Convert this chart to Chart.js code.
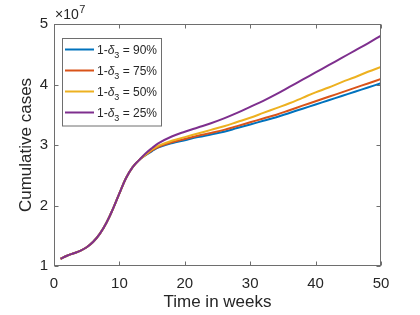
<!DOCTYPE html>
<html>
<head>
<meta charset="utf-8">
<script src="https://cdn.jsdelivr.net/npm/chart.js@4"></script>
<style>
html,body{margin:0;padding:0;background:#fff;}
#wrap{position:relative;width:420px;height:315px;}
</style>
</head>
<body>
<div id="wrap"><canvas id="c" width="420" height="315"></canvas></div>
<script>
// ---- data (cases in units of 10^7) ----
const weeks = [1,2,3,4,5,6,7,8,9,10,11,12,13,14,15,16,18,20,22,24,26,28,30,32,34,36,38,40,42,44,46,48,50];
const commonStart = [1.12,1.17,1.21,1.25,1.31,1.40,1.53,1.71,1.94,2.20,2.45,2.63,2.75];
const blue90   = [2.830,2.900,2.960,3.030,3.080,3.130,3.175,3.220,3.280,3.340,3.400,3.460,3.530,3.600,3.670,3.740,3.810,3.880,3.950,4.020];
const orange75 = [2.835,2.910,2.970,3.045,3.100,3.152,3.200,3.250,3.312,3.375,3.438,3.500,3.575,3.650,3.723,3.797,3.870,3.944,4.017,4.090];
const yellow50 = [2.840,2.925,2.990,3.070,3.130,3.190,3.250,3.310,3.380,3.450,3.530,3.610,3.690,3.780,3.870,3.950,4.040,4.120,4.210,4.290];
const purple25 = [2.860,2.950,3.030,3.140,3.220,3.290,3.360,3.440,3.530,3.630,3.730,3.840,3.960,4.080,4.200,4.320,4.440,4.560,4.680,4.810];
const percents = ['90%','75%','50%','25%'];
const xTicks = [0,10,20,30,40,50];
const yTicks = [1,2,3,4,5];
const yExponent = '7';

const colors = ['#0072BD','#D95319','#EDB120','#7E2F8E'];
const series = [blue90, orange75, yellow50, purple25];
const FONT = "'Liberation Sans', Arial, Helvetica, sans-serif";
const TXT = '#262626';

function pts(tail){
  const ys = commonStart.concat(tail);
  return weeks.map((w,i)=>({x:w,y:ys[i]}));
}

const datasets = series.map((s,i)=>({
  label: '1-δ3 = ' + percents[i],
  data: pts(s),
  borderColor: colors[i],
  backgroundColor: colors[i],
  borderWidth: 2,
  pointRadius: 0,
  fill: false,
  tension: 0.4,
  order: 3 - i
}));

const framePlugin = {
  id: 'frame',
  afterDatasetsDraw(chart){
    const ctx = chart.ctx, a = chart.chartArea;
    const xs = chart.scales.x, ys = chart.scales.y;
    ctx.save();
    ctx.strokeStyle = '#6e6e6e';
    ctx.lineWidth = 1;
    const L = Math.round(a.left)+0.5, R = Math.round(a.right)-0.5, T = Math.round(a.top)+0.5, B = Math.round(a.bottom)-0.5;
    ctx.strokeRect(L, T, R-L, B-T);
    const tl = 4;
    ctx.beginPath();
    xTicks.forEach(v=>{
      const p = Math.round(xs.getPixelForValue(v))+0.5;
      ctx.moveTo(p,B); ctx.lineTo(p,B-tl);
      ctx.moveTo(p,T); ctx.lineTo(p,T+tl);
    });
    yTicks.forEach(v=>{
      const p = Math.round(ys.getPixelForValue(v))+0.5;
      ctx.moveTo(L,p); ctx.lineTo(L+tl,p);
      ctx.moveTo(R,p); ctx.lineTo(R-tl,p);
    });
    ctx.stroke();

    // exponent label
    ctx.fillStyle = TXT;
    ctx.textBaseline = 'alphabetic';
    ctx.textAlign = 'left';
    ctx.font = '14px ' + FONT;
    const ex = a.left + 1, ey = a.top - 5;
    ctx.fillText('×10', ex, ey);
    const w = ctx.measureText('×10').width;
    ctx.font = '11px ' + FONT;
    ctx.fillText(yExponent, ex + w + 0.5, ey - 6);

    // legend
    const lx = 62, ly = 37.5, lw = 99, lh = 87.5;
    ctx.fillStyle = '#fff';
    ctx.fillRect(lx, ly, lw, lh);
    ctx.strokeStyle = '#6e6e6e';
    ctx.strokeRect(Math.round(lx)+0.5, Math.round(ly)+0.5, lw, lh);
    chart.data.datasets.forEach((ds,i)=>{
      const cy = 49.5 + i*21;
      ctx.strokeStyle = ds.borderColor;
      ctx.lineWidth = 2;
      ctx.beginPath(); ctx.moveTo(65, cy); ctx.lineTo(94, cy); ctx.stroke();
      ctx.fillStyle = TXT;
      let x = 97;
      const base = cy + 4;
      ctx.font = '12px ' + FONT;
      ctx.fillText('1-', x, base); x += ctx.measureText('1-').width;
      ctx.font = 'italic 12px ' + FONT;
      ctx.fillText('δ', x, base); x += ctx.measureText('δ').width;
      ctx.font = '9px ' + FONT;
      ctx.fillText('3', x, base + 4); x += ctx.measureText('3').width;
      ctx.font = '12px ' + FONT;
      ctx.fillText(' = ' + percents[i], x, base);
    });
    ctx.restore();
  }
};

new Chart(document.getElementById('c'), {
  type: 'line',
  data: { datasets },
  options: {
    responsive: false,
    animation: false,
    devicePixelRatio: 1,
    layout: { padding: { left: 0, right: 39, top: 24, bottom: 0 } },
    plugins: { legend: { display: false }, tooltip: { enabled: false } },
    scales: {
      x: {
        type: 'linear', min: 0, max: 50,
        afterBuildTicks(s){ s.ticks = xTicks.map(v=>({value:v})); },
        afterFit(s){ s.height = 49; },
        grid: { display: false, drawTicks: false },
        border: { display: false },
        ticks: { color: TXT, font: { family: FONT, size: 15 }, padding: 9, maxRotation: 0 },
        title: { display: true, text: 'Time in weeks', color: TXT, font: { family: FONT, size: 17 }, padding: { top: 0, bottom: 2 } }
      },
      y: {
        type: 'linear', min: 1, max: 5,
        afterBuildTicks(s){ s.ticks = yTicks.map(v=>({value:v})); },
        afterFit(s){ s.width = 54; },
        grid: { display: false, drawTicks: false },
        border: { display: false },
        ticks: { color: TXT, font: { family: FONT, size: 15 }, padding: 6 },
        title: { display: true, text: 'Cumulative cases', color: TXT, font: { family: FONT, size: 17 }, padding: { top: 16, bottom: 0 } }
      }
    }
  },
  plugins: [framePlugin]
});
</script>
</body>
</html>
